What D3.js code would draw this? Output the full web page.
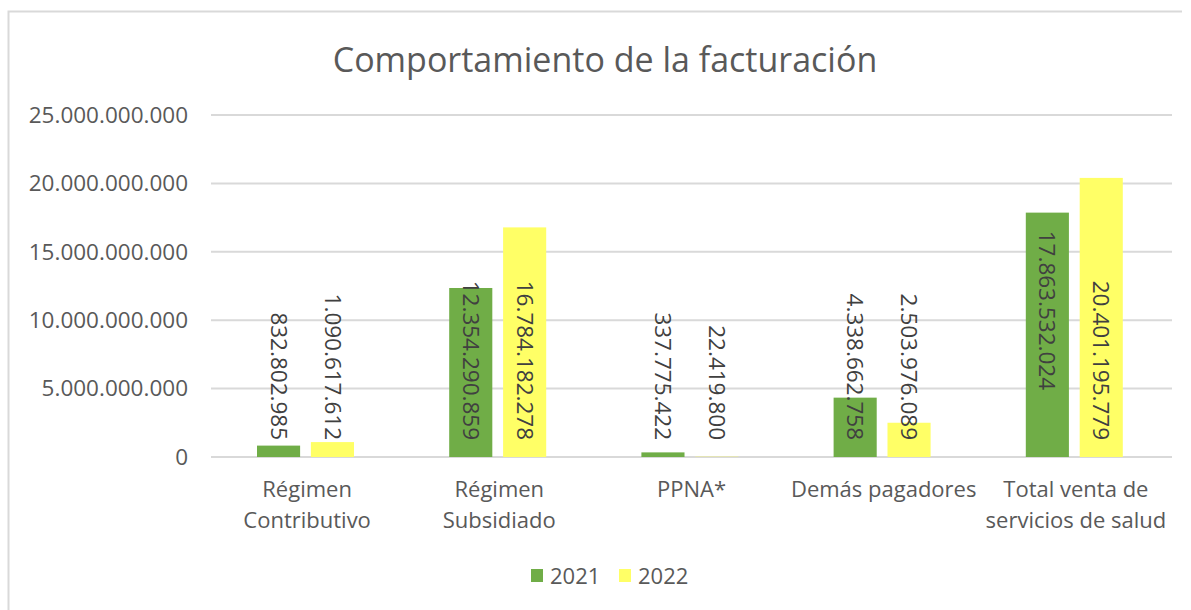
<!DOCTYPE html>
<html>
<head>
<meta charset="utf-8">
<script src="https://cdn.jsdelivr.net/npm/d3@7"></script>
<style>
    body { margin: 0; background: #ffffff; }
    svg text { font-family: "Open Sans", "Noto Sans", sans-serif; }
</style>
</head>
<body>
<div id="chart"></div>
<script>
// data
const categories = ["Régimen Contributivo", "Régimen Subsidiado", "PPNA*", "Demás pagadores", "Total venta de servicios de salud"];
const seriesNames = ["2021", "2022"];
const values2021 = [832802985, 12354290859, 337775422, 4338662758, 17863532024];
const values2022 = [1090617612, 16784182278, 22419800, 2503976089, 20401195779];
const yTicks = [0, 5000000000, 10000000000, 15000000000, 20000000000, 25000000000];

const colors = {"2021": "#70ad47", "2022": "#ffff66"};

const width = 1191, height = 610;
const margin = {top: 115, right: 19, bottom: 153, left: 211};
const plotW = width - margin.left - margin.right;
const plotH = height - margin.top - margin.bottom;

// label nudges (Excel put one label higher than the others)
const labelNudge = {"4-2021": -50};

const fmt = d3.formatLocale({decimal: ",", thousands: ".", grouping: [3], currency: ["", ""]}).format(",d");

const svg = d3.select("#chart").append("svg")
    .attr("width", width)
    .attr("height", height);

// chart area border (top + left visible)
svg.append("path")
    .attr("d", `M8.5,${height} V11.5 H1182`)
    .attr("fill", "none")
    .attr("stroke", "#d9d9d9")
    .attr("stroke-width", 2);

svg.append("text")
    .attr("x", 605)
    .attr("y", 72)
    .attr("text-anchor", "middle")
    .attr("fill", "#595959")
    .style("font-size", "34px")
    .text("Comportamiento de la facturación");

const g = svg.append("g").attr("transform", `translate(${margin.left},${margin.top})`);

const x0 = d3.scaleBand().domain(categories).range([0, plotW]).padding(0);
const x1 = d3.scaleBand().domain(seriesNames).range([46, 143]).paddingInner(0.2);
const y = d3.scaleLinear().domain([0, 25000000000]).range([plotH, 0]);

// gridlines
g.selectAll(".grid")
    .data(yTicks)
    .enter().append("line")
    .attr("x1", 0).attr("x2", plotW)
    .attr("y1", d => y(d)).attr("y2", d => y(d))
    .attr("stroke", "#d9d9d9")
    .attr("stroke-width", 2);

// y axis labels
const yAxis = d3.axisLeft(y).tickValues(yTicks).tickSize(0).tickPadding(23).tickFormat(d => fmt(d));
g.append("g").call(yAxis)
    .call(a => a.select(".domain").remove())
    .selectAll("text")
    .attr("fill", "#595959")
    .style("font-size", "22.5px")
    .style("font-family", "'Open Sans', sans-serif");

const rows = categories.map((c, i) => ({cat: c, idx: i, vals: [
    {key: "2021", v: values2021[i]},
    {key: "2022", v: values2022[i]}
]}));

const groups = g.selectAll(".grp")
    .data(rows)
    .enter().append("g")
    .attr("transform", d => `translate(${x0(d.cat)},0)`);

groups.selectAll("rect")
    .data(d => d.vals)
    .enter().append("rect")
    .attr("x", d => x1(d.key))
    .attr("width", x1.bandwidth())
    .attr("y", d => y(d.v))
    .attr("height", d => plotH - y(d.v))
    .attr("fill", d => colors[d.key]);

// rotated value labels
groups.each(function(row) {
    d3.select(this).selectAll(".lbl")
        .data(row.vals)
        .enter().append("text")
        .attr("transform", d => {
            const cx = x1(d.key) + x1.bandwidth() / 2;
            const yEnd = plotH - 17 + (labelNudge[row.idx + "-" + d.key] || 0);
            return `translate(${cx},${yEnd}) rotate(90)`;
        })
        .attr("text-anchor", "end")
        .attr("dy", "0.35em")
        .attr("fill", "#404040")
        .style("font-size", "22.5px")
        .text(d => fmt(d.v));
});

// category labels with wrapping
const xLab = g.selectAll(".xlab")
    .data(categories)
    .enter().append("text")
    .attr("x", d => x0(d) + x0.bandwidth() / 2)
    .attr("y", plotH + 40)
    .attr("text-anchor", "middle")
    .attr("fill", "#595959")
    .style("font-size", "22px");

xLab.each(function(d) {
    const t = d3.select(this);
    const words = d.split(" ");
    let line = [];
    let tspan = t.append("tspan").attr("x", t.attr("x")).attr("dy", 0);
    words.forEach(w => {
        line.push(w);
        tspan.text(line.join(" "));
        if (tspan.node().getComputedTextLength() > x0.bandwidth() && line.length > 1) {
            line.pop();
            tspan.text(line.join(" "));
            line = [w];
            tspan = t.append("tspan").attr("x", t.attr("x")).attr("dy", 31).text(w);
        }
    });
});

// legend
const legend = svg.append("g").attr("transform", "translate(531,569)");
const li = legend.selectAll("g")
    .data(seriesNames)
    .enter().append("g")
    .attr("transform", (d, i) => `translate(${i * 88},0)`);
li.append("rect")
    .attr("width", 12).attr("height", 13)
    .attr("fill", d => colors[d]);
li.append("text")
    .attr("x", 19).attr("y", 7)
    .attr("dy", "0.35em")
    .attr("fill", "#595959")
    .style("font-size", "22px")
    .text(d => d);
</script>
</body>
</html>
